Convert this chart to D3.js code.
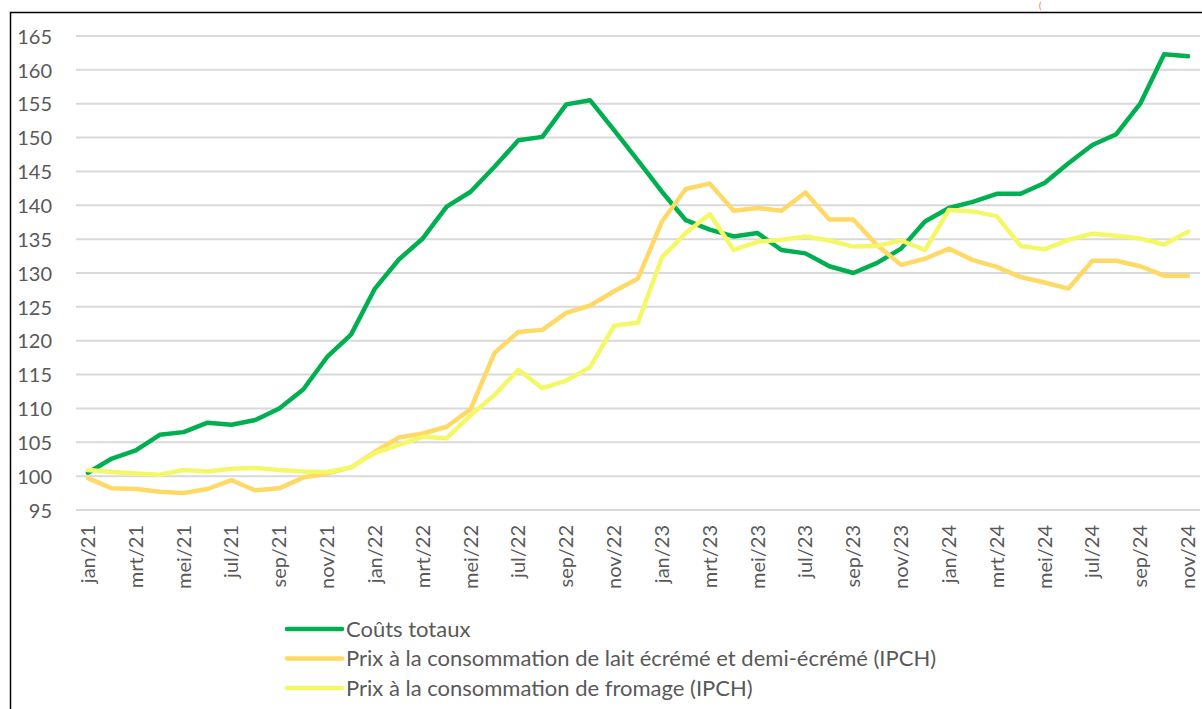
<!DOCTYPE html>
<html>
<head>
<meta charset="utf-8">
<script src="https://cdn.jsdelivr.net/npm/d3@7"></script>
<style>
  html, body { margin: 0; padding: 0; background: #fff; }
  svg { display: block; }
  text { font-family: Lato, "Open Sans", sans-serif; fill: #595959; }
</style>
</head>
<body>
<svg id="chart" width="1202" height="709"></svg>
<script>
// Monthly categories, jan/21 .. nov/24
const monthNames = ["jan", "feb", "mrt", "apr", "mei", "jun", "jul", "aug", "sep", "okt", "nov", "dec"];
const months = [];
for (let y = 21; y <= 24; y++) {
  for (let m = 0; m < 12; m++) {
    if (y === 24 && m > 10) break;
    months.push(monthNames[m] + "/" + y);
  }
}

// Index values (jan 2021 = ~100)
const coutsTotaux = [
  100.5, 102.6, 103.8, 106.1, 106.5, 107.9, 107.6, 108.3, 110.0, 112.8, 117.6, 120.9,
  127.7, 132.0, 135.1, 139.8, 142.0, 145.7, 149.6, 150.1, 154.9, 155.5, 151.1, 146.6,
  142.0, 137.8, 136.4, 135.4, 135.9, 133.4, 132.9, 131.0, 130.0, 131.5, 133.6, 137.6,
  139.6, 140.5, 141.7, 141.7, 143.3, 146.2, 148.9, 150.5, 155.0, 162.3, 162.0
];
const prixLait = [
  99.7, 98.2, 98.1, 97.7, 97.5, 98.1, 99.4, 97.9, 98.2, 99.8, 100.4, 101.3,
  103.6, 105.7, 106.3, 107.3, 109.9, 118.2, 121.3, 121.6, 124.1, 125.2, 127.3, 129.2,
  137.6, 142.4, 143.2, 139.2, 139.6, 139.2, 141.9, 137.9, 137.9, 134.1, 131.2, 132.1,
  133.6, 131.9, 130.9, 129.4, 128.6, 127.7, 131.8, 131.8, 131.0, 129.6, 129.6
];
const prixFromage = [
  100.9, 100.6, 100.4, 100.2, 100.9, 100.7, 101.1, 101.2, 100.9, 100.7, 100.6, 101.3,
  103.4, 104.6, 105.8, 105.6, 109.0, 112.0, 115.7, 113.0, 114.1, 116.1, 122.2, 122.7,
  132.3, 135.9, 138.7, 133.4, 134.6, 134.9, 135.4, 134.8, 133.9, 134.0, 134.8, 133.4,
  139.3, 139.1, 138.4, 134.0, 133.5, 134.9, 135.8, 135.5, 135.1, 134.2, 136.1
];

const seriesNames = [
  "Coûts totaux",
  "Prix à la consommation de lait écrémé et demi-écrémé (IPCH)",
  "Prix à la consommation de fromage (IPCH)"
];
const seriesColors = ["#00B050", "#FFD966", "#F4F866"];
const yTicks = [95, 100, 105, 110, 115, 120, 125, 130, 135, 140, 145, 150, 155, 160, 165];

const series = [coutsTotaux, prixLait, prixFromage].map((values, i) => ({
  name: seriesNames[i], color: seriesColors[i], values
}));

const svg = d3.select("#chart");

// Outer frame of the chart area
svg.append("rect")
  .attr("x", 10.5).attr("y", 12.5)
  .attr("width", 1210).attr("height", 720)
  .attr("fill", "none").attr("stroke", "#000").attr("stroke-width", 1.5);

// Small heading fragment above the frame
svg.append("text")
  .attr("x", 1039).attr("y", 9)
  .attr("font-size", 9)
  .style("fill", "#E8703A")
  .text("(");

const plot = { left: 76, right: 1200, top: 36, bottom: 510 };

const x = d3.scaleBand()
  .domain(months)
  .range([plot.left, plot.right])
  .paddingInner(0).paddingOuter(0);

const y = d3.scaleLinear()
  .domain([95, 165])
  .range([plot.bottom, plot.top]);

// Horizontal gridlines
svg.append("g")
  .selectAll("line")
  .data(yTicks)
  .join("line")
  .attr("x1", plot.left).attr("x2", plot.right)
  .attr("y1", d => y(d)).attr("y2", d => y(d))
  .attr("stroke", "#D9D9D9").attr("stroke-width", 2);

// Y axis labels
const yAxis = d3.axisLeft(y).tickValues(yTicks).tickSize(0).tickPadding(0);
const gy = svg.append("g")
  .attr("transform", "translate(52,0)")
  .call(yAxis);
gy.select(".domain").remove();
gy.selectAll("text")
  .attr("font-size", 20)
  .attr("font-family", "Lato, 'Open Sans', sans-serif")
  .style("fill", "#595959")
  .attr("dy", "0.36em");

// X axis labels every second month, rotated
const xAxis = d3.axisBottom(x)
  .tickValues(months.filter((d, i) => i % 2 === 0))
  .tickSize(0).tickPadding(0);
const gx = svg.append("g")
  .attr("transform", `translate(0,${plot.bottom})`)
  .call(xAxis);
gx.select(".domain").remove();
gx.selectAll("text")
  .attr("font-size", 20)
  .attr("font-family", "Lato, 'Open Sans', sans-serif")
  .style("fill", "#595959")
  .attr("text-anchor", "end")
  .attr("transform", "rotate(-90)")
  .attr("x", -15)
  .attr("y", 0)
  .attr("dy", "0.35em");

// Series lines
const line = d3.line()
  .x((d, i) => x(months[i]) + x.bandwidth() / 2)
  .y(d => y(d));

svg.append("g")
  .selectAll("path")
  .data(series)
  .join("path")
  .attr("d", d => line(d.values))
  .attr("fill", "none")
  .attr("stroke", d => d.color)
  .attr("stroke-width", 4.5)
  .attr("stroke-linejoin", "round")
  .attr("stroke-linecap", "round");

// Legend
const legend = svg.append("g").attr("transform", "translate(287,629)");
const item = legend.selectAll("g")
  .data(series)
  .join("g")
  .attr("transform", (d, i) => `translate(0,${i * 29.5})`);
item.append("line")
  .attr("x1", 0).attr("x2", 55)
  .attr("stroke", d => d.color)
  .attr("stroke-width", 4.5)
  .attr("stroke-linecap", "round");
item.append("text")
  .attr("x", 59)
  .attr("dy", "0.36em")
  .attr("font-size", 22)
  .text(d => d.name);
</script>
</body>
</html>
